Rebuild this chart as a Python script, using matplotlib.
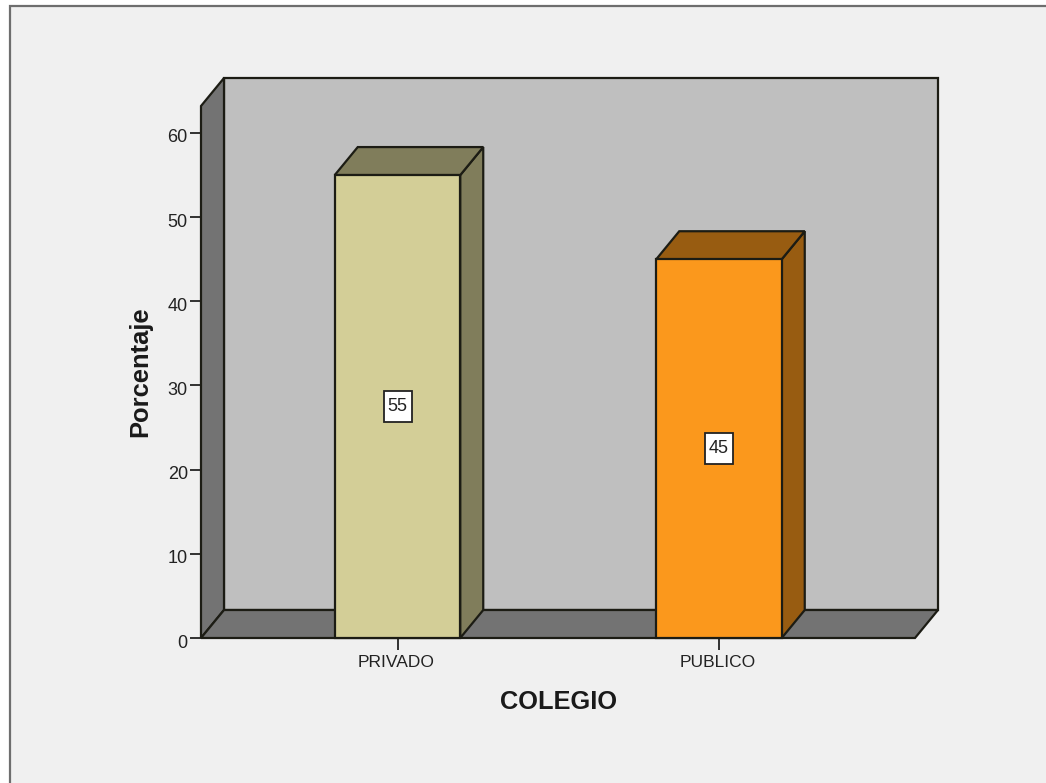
import matplotlib
matplotlib.use("Agg")
import matplotlib.pyplot as plt
from matplotlib.patches import Polygon, Rectangle
from matplotlib.transforms import ScaledTranslation

categories = ["PRIVADO", "PUBLICO"]
percentages = [55, 45]
front_colors = ["#d3ce97", "#fb981c"]
shade_colors = ["#807d5b", "#985c11"]
y_ticks = [0, 10, 20, 30, 40, 50, 60]

W, H = 1046, 783
plt.rcParams["font.family"] = ["Liberation Sans", "DejaVu Sans"]

fig = plt.figure(figsize=(W / 100, H / 100), dpi=100, facecolor="white")

# Panel background with its thin grey frame, running off the right and bottom edges
fig.add_artist(Rectangle((10 / W, -0.02), 1.02, 1.02 - 6.5 / H,
                         transform=fig.transFigure, facecolor="#f0f0f0",
                         edgecolor="#6e6e6e", linewidth=1.6, zorder=-1))

# Front plane of the 3D box
left, right, bottom, top = 201, 915, 638, 106
ax = fig.add_axes([left / W, 1 - bottom / H, (right - left) / W, (bottom - top) / H])
ax.patch.set_visible(False)
for s in ax.spines.values():
    s.set_visible(False)

per_cat = 321.5
per_unit = 8.417
x0, x1 = (left - 397.5) / per_cat, (right - 397.5) / per_cat
y0, y1 = 0, (bottom - top) / per_unit
ax.set_xlim(x0, x1)
ax.set_ylim(y0, y1)

dx, dy = 23 / per_cat, 28 / per_unit   # depth of the extrusion
half = 125.5 / 2 / per_cat             # half bar width
box_w, box_h = 28 / per_cat, 31 / per_unit   # value box size
edge = "#1c1c14"
lw = 1.6


def face(points, color, z):
    ax.add_patch(Polygon(points, closed=True, facecolor=color, edgecolor=edge,
                         linewidth=lw, joinstyle="miter", clip_on=False, zorder=z))


# Back wall, side wall and floor
face([(x0 + dx, y0 + dy), (x1 + dx, y0 + dy), (x1 + dx, y1 + dy), (x0 + dx, y1 + dy)], "#bfbfbf", 1)
face([(x0, y0), (x0 + dx, y0 + dy), (x0 + dx, y1 + dy), (x0, y1)], "#737373", 2)
face([(x0, y0), (x1, y0), (x1 + dx, y0 + dy), (x0 + dx, y0 + dy)], "#737373", 2)

# Extruded bars with a value box at mid-height
for i, (value, front, shade) in enumerate(zip(percentages, front_colors, shade_colors)):
    a, b = i - half, i + half
    face([(b, 0), (b + dx, dy), (b + dx, value + dy), (b, value)], shade, 3)
    face([(a, value), (b, value), (b + dx, value + dy), (a + dx, value + dy)], shade, 3)
    face([(a, 0), (b, 0), (b, value), (a, value)], front, 4)
    ax.add_patch(Rectangle((i - box_w / 2, value / 2 - box_h / 2), box_w, box_h,
                           facecolor="white", edgecolor="#222222", linewidth=1.3, zorder=5))
    ax.text(i, value / 2, str(value), ha="center", va="center", fontsize=13,
            color="#222222", zorder=6)

ax.set_xticks(range(len(categories)), categories)
ax.set_yticks(y_ticks)
ax.tick_params(axis="both", length=8, width=1.3, color="#222222",
               labelcolor="#222222", labelsize=12.5)
ax.tick_params(axis="x", length=8.6, pad=3.5)
ax.tick_params(axis="y", pad=1.5)

# Value labels on the vertical axis sit slightly below their ticks
nudge = ScaledTranslation(0, -3 / 100, fig.dpi_scale_trans)
for t in ax.get_yticklabels():
    t.set_fontsize(13)
    t.set_transform(t.get_transform() + nudge)

# Category labels sit slightly left of their ticks
shift = ScaledTranslation(-1.2 / 100, 0, fig.dpi_scale_trans)
for t in ax.get_xticklabels():
    t.set_transform(t.get_transform() + shift)

fig.text(558.5 / W, 1 - 702 / H, "COLEGIO", fontsize=18.3, fontweight="bold",
         color="#1a1a1a", ha="center", va="center")
fig.text(140 / W, 1 - 371.5 / H, "Porcentaje", fontsize=18.4, fontweight="bold",
         color="#1a1a1a", rotation=90, ha="center", va="center")

fig.savefig("out.png", dpi=100, facecolor=fig.get_facecolor())
